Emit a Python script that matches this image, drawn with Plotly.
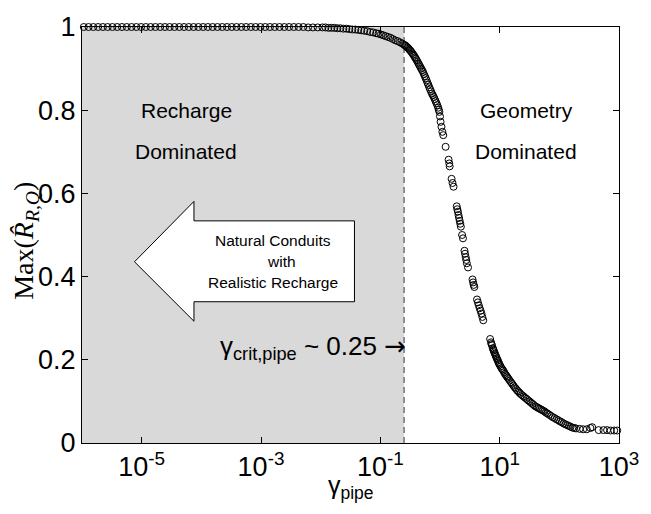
import plotly.graph_objects as go

# ---- data (gamma given as log10 exponent) ----
plateau_exp = [-5.97, -5.89, -5.81, -5.73, -5.65, -5.57, -5.49, -5.41, -5.33, -5.25,
               -5.17, -5.09, -5.01, -4.93, -4.85, -4.77, -4.69, -4.61, -4.53, -4.45,
               -4.37, -4.29, -4.21, -4.13, -4.05, -3.97, -3.89, -3.81, -3.73, -3.65,
               -3.57, -3.49, -3.41, -3.33, -3.25, -3.17, -3.09, -3.01, -2.93, -2.85,
               -2.77, -2.69, -2.61, -2.53, -2.45, -2.37, -2.29, -2.21, -2.13, -2.05]
plateau_val = [1.0, 1.0, 1.0, 1.0, 1.0, 1.0, 1.0, 1.0, 1.0, 1.0,
               1.0, 1.0, 1.0, 1.0, 1.0, 1.0, 1.0, 1.0, 1.0, 1.0,
               1.0, 1.0, 1.0, 1.0, 1.0, 1.0, 1.0, 1.0, 1.0, 1.0,
               1.0, 1.0, 1.0, 1.0, 1.0, 1.0, 1.0, 1.0, 1.0, 1.0,
               1.0, 1.0, 1.0, 1.0, 1.0, 1.0, 1.0, 0.999, 0.999, 0.999]

drop_exp = [-1.97, -1.92, -1.87, -1.82, -1.77, -1.72, -1.67, -1.62, -1.57, -1.52,
            -1.47, -1.42, -1.37, -1.32, -1.27, -1.22, -1.17, -1.12, -1.07, -1.03,
            -0.99, -0.95, -0.91, -0.87, -0.83, -0.79, -0.75, -0.71, -0.67, -0.63,
            -0.60, -0.57, -0.54, -0.51, -0.48, -0.45, -0.42, -0.39, -0.36, -0.33,
            -0.30, -0.27, -0.24, -0.21, -0.18, -0.15, -0.12, -0.09, -0.06, -0.03,
            -0.01, 0.00, 0.01, 0.025, 0.04, 0.055, 0.094, 0.144, 0.155, 0.162,
            0.194, 0.21, 0.227, 0.28, 0.29, 0.30, 0.31, 0.32, 0.33, 0.34,
            0.35, 0.37, 0.385, 0.41, 0.42, 0.43, 0.44, 0.45, 0.47, 0.545,
            0.555, 0.565, 0.576, 0.62, 0.635, 0.65, 0.665, 0.68, 0.695, 0.71,
            0.725, 0.84, 0.855, 0.87, 0.885, 0.90, 0.92, 0.94, 0.96, 0.98,
            1.00, 1.03, 1.06, 1.09, 1.12, 1.15, 1.19, 1.23, 1.27, 1.31,
            1.35, 1.40, 1.45, 1.50, 1.55, 1.60, 1.65, 1.70, 1.75, 1.80,
            1.86, 1.92, 1.98, 2.04, 2.10, 2.16, 2.22, 2.28, 2.34, 2.40,
            2.46, 2.52, 2.55, 2.66, 2.74, 2.80, 2.86, 2.92, 2.97]
drop_val = [0.999, 0.999, 0.998, 0.998, 0.998, 0.997, 0.997, 0.996, 0.996, 0.995,
            0.994, 0.994, 0.993, 0.992, 0.991, 0.990, 0.988, 0.987, 0.985, 0.984,
            0.982, 0.980, 0.978, 0.976, 0.974, 0.971, 0.968, 0.966, 0.963, 0.960,
            0.957, 0.954, 0.950, 0.945, 0.940, 0.934, 0.927, 0.920, 0.912, 0.904,
            0.896, 0.887, 0.877, 0.866, 0.855, 0.845, 0.836, 0.827, 0.817, 0.806,
            0.796, 0.785, 0.772, 0.760, 0.748, 0.740, 0.712, 0.681, 0.672, 0.665,
            0.635, 0.625, 0.616, 0.569, 0.562, 0.556, 0.548, 0.541, 0.534, 0.527,
            0.520, 0.500, 0.492, 0.462, 0.455, 0.447, 0.440, 0.432, 0.422, 0.393,
            0.386, 0.380, 0.375, 0.345, 0.338, 0.331, 0.324, 0.318, 0.311, 0.303,
            0.295, 0.250, 0.242, 0.235, 0.228, 0.222, 0.215, 0.208, 0.201, 0.194,
            0.188, 0.180, 0.174, 0.166, 0.160, 0.154, 0.146, 0.138, 0.131, 0.124,
            0.118, 0.112, 0.106, 0.100, 0.094, 0.088, 0.084, 0.080, 0.076, 0.071,
            0.065, 0.060, 0.055, 0.050, 0.045, 0.041, 0.037, 0.035, 0.034, 0.033,
            0.033, 0.036, 0.038, 0.031, 0.031, 0.031, 0.030, 0.030, 0.030]

# extra points filling the dense band just right of the critical line
knee_exp = [-0.585, -0.555, -0.525, -0.495, -0.465, -0.435, -0.405, -0.375, -0.345, -0.315,
            -0.285, -0.255, -0.225, -0.195, -0.165, -0.135, -0.105, -0.075, -0.045, -0.02]
knee_val = [0.956, 0.952, 0.948, 0.943, 0.937, 0.931, 0.924, 0.916, 0.908, 0.900,
            0.892, 0.882, 0.872, 0.861, 0.850, 0.840, 0.832, 0.822, 0.812, 0.801]

# extra points in the dense lower tail
tail_exp = [0.863, 0.893, 0.91, 0.93, 0.95, 0.97, 0.99, 1.015, 1.045, 1.075,
            1.105, 1.135, 1.17, 1.21, 1.25, 1.29, 1.33, 1.375, 1.425, 1.475,
            1.525, 1.575, 1.625, 1.675, 1.725, 1.775, 1.83, 1.89, 1.95, 2.01,
            2.07, 2.13, 2.19, 2.25]
tail_val = [0.238, 0.225, 0.218, 0.211, 0.204, 0.198, 0.191, 0.184, 0.177, 0.170,
            0.163, 0.157, 0.150, 0.142, 0.134, 0.127, 0.121, 0.115, 0.109, 0.103,
            0.097, 0.091, 0.086, 0.082, 0.078, 0.073, 0.068, 0.062, 0.057, 0.052,
            0.047, 0.043, 0.039, 0.036]

gamma_crit = 0.25
x_min, x_max = 1e-6, 1e3
x_tick_vals = [1e-5, 1e-3, 1e-1, 1e1, 1e3]
x_tick_text = ["10<sup>-5</sup>", "10<sup>-3</sup>", "10<sup>-1</sup>",
               "10<sup>1</sup>", "10<sup>3</sup>"]
y_tick_vals = [0, 0.2, 0.4, 0.6, 0.8, 1]
y_tick_text = ["0", "0.2", "0.4", "0.6", "0.8", "1"]

gamma = [10 ** e for e in plateau_exp + drop_exp + knee_exp + tail_exp]
rmax = plateau_val + drop_val + knee_val + tail_val

SANS = "Liberation Sans, Arial, Helvetica, sans-serif"

fig = go.Figure()

# recharge-dominated shaded region
fig.add_trace(go.Scatter(
    x=[x_min, gamma_crit, gamma_crit, x_min, x_min], y=[0, 0, 1, 1, 0],
    mode="lines", fill="toself", fillcolor="#d9d9d9",
    line=dict(width=0), hoverinfo="skip", showlegend=False))

# critical gamma dashed line
fig.add_trace(go.Scatter(
    x=[gamma_crit, gamma_crit], y=[0, 1], mode="lines",
    line=dict(color="#555555", width=1.2, dash="6px,4px"),
    hoverinfo="skip", showlegend=False))

# scatter of Max(R_hat)
fig.add_trace(go.Scatter(
    x=gamma, y=rmax, mode="markers", cliponaxis=False,
    marker=dict(symbol="circle-open", size=7, color="black",
                line=dict(color="black", width=1)),
    showlegend=False))

# big white arrow (paper coords)
ax = lambda px: (px - 82) / 542.0
ay = lambda py: (443 - py) / 427.0
arrow_path = ("M {} {} L {} {} L {} {} L {} {} L {} {} L {} {} L {} {} Z".format(
    ax(135), ay(257), ax(195), ay(195), ax(195), ay(215), ax(357), ay(215),
    ax(357), ay(298), ax(195), ay(298), ax(195), ay(318)))
fig.add_shape(type="path", path=arrow_path, xref="paper", yref="paper",
              fillcolor="white", line=dict(color="black", width=1), layer="above")

ann = []
def txt(text, x, y, size, xanchor="center", family=SANS, angle=0):
    ann.append(dict(text=text, x=x, y=y, xref="paper", yref="paper",
                    xanchor=xanchor, yanchor="middle", showarrow=False,
                    textangle=angle, font=dict(family=family, size=size, color="black")))

txt("Recharge", ax(187), ay(102), 21)
txt("Dominated", ax(187), ay(144), 21)
txt("Geometry", ax(531), ay(102), 21)
txt("Dominated", ax(530), ay(144), 21)
txt("Natural Conduits", ax(275), ay(235), 15.5)
txt("with", ax(283), ay(257), 15.5)
txt("Realistic Recharge", ax(275), ay(278), 15.5)
txt("γ<sub>crit,pipe</sub> ~ 0.25 <span style='font-family:DejaVu Sans'>→</span>",
    ax(411), ay(345), 26, xanchor="right")
txt("γ<sub>pipe</sub>", ax(353), ay(488), 25)
txt("Max(<i>R\u0302</i><sub><i>R,Q</i></sub>)", ax(25), ay(236), 28,
    family="Liberation Serif, Times New Roman, serif", angle=-90)

fig.update_layout(
    width=651, height=514,
    margin=dict(l=82, r=27, t=16, b=71),
    paper_bgcolor="white", plot_bgcolor="white",
    annotations=ann,
    xaxis=dict(type="log", range=[-6, 3], tickvals=x_tick_vals, ticktext=x_tick_text,
               ticks="inside", ticklen=6, tickcolor="black", showgrid=False,
               showline=True, linecolor="black", linewidth=1, mirror="ticks",
               zeroline=False, tickfont=dict(family=SANS, size=27, color="black")),
    yaxis=dict(range=[0, 1], tickvals=y_tick_vals, ticktext=y_tick_text,
               ticks="inside", ticklen=6, tickcolor="black", showgrid=False,
               showline=True, linecolor="black", linewidth=1, mirror="ticks",
               zeroline=False, tickfont=dict(family=SANS, size=27, color="black")),
)

fig.write_html("out.html")
